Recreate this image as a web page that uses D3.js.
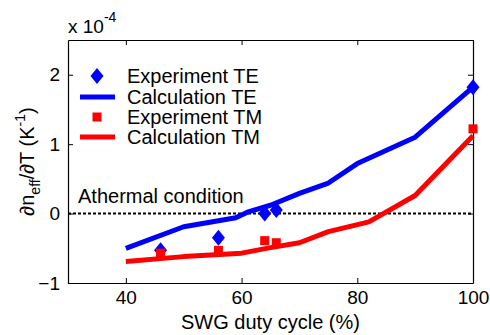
<!DOCTYPE html>
<html>
<head>
<meta charset="utf-8">
<script src="https://cdn.jsdelivr.net/npm/d3@7"></script>
<style>
  body { margin: 0; background: #fff; }
  text { font-family: 'Liberation Sans', Arial, sans-serif; fill: #000; }
</style>
</head>
<body>
<svg id="chart" width="490" height="335"></svg>
<script>
// data (values in units of 1e-4 K^-1)
const teCalcX = [40, 50, 59, 61, 65, 70, 75, 80, 90, 100]
const teCalcY = [-0.50, -0.19, -0.06, 0.02, 0.12, 0.29, 0.44, 0.72, 1.10, 1.82]
const tmCalcX = [40, 50, 60, 65, 70, 75, 82, 90, 100]
const tmCalcY = [-0.69, -0.62, -0.57, -0.49, -0.42, -0.26, -0.12, 0.26, 1.12]
const teExpX = [46, 56, 64, 66, 100]
const teExpY = [-0.53, -0.35, 0.00, 0.05, 1.82]
const tmExpX = [46, 56, 64, 66, 100]
const tmExpY = [-0.57, -0.53, -0.39, -0.42, 1.22]
const xTicks = [40, 60, 80, 100]
const yTicks = [-1, 0, 1, 2]
const legendLabels = ['Experiment TE', 'Calculation TE', 'Experiment TM', 'Calculation TM']

const blue = '#0000ff'
const red = '#ff0000'
const margin = { top: 40, right: 17, bottom: 52, left: 68 }
const w = 490, h = 335

const svg = d3.select('#chart')

const x = d3.scaleLinear().domain([30, 100]).range([margin.left, w - margin.right])
const y = d3.scaleLinear().domain([-1, 2.5]).range([h - margin.bottom, margin.top])

const zip = (xs, ys) => xs.map((d, i) => ({ x: d, y: ys[i] }))

// axes box with inward ticks
const axisStyle = g => g
  .call(g => g.select('.domain').attr('stroke', '#000').attr('stroke-width', 1.2))
  .call(g => g.selectAll('.tick line').attr('stroke', '#000').attr('stroke-width', 1))
  .call(g => g.selectAll('.tick text')
    .style('font-size', '19px')
    .style('font-family', "'Liberation Sans', Arial, sans-serif")
    .attr('fill', '#000'))

svg.append('g')
  .attr('transform', `translate(0,${y(-1)})`)
  .call(d3.axisBottom(x).tickValues(xTicks).tickSizeInner(-5).tickSizeOuter(0).tickPadding(8).tickFormat(d3.format('d')))
  .call(axisStyle)

svg.append('g')
  .attr('transform', `translate(0,${y(2.5)})`)
  .call(d3.axisTop(x).tickValues(xTicks).tickSizeInner(-5).tickSizeOuter(0).tickFormat(''))
  .call(axisStyle)

svg.append('g')
  .attr('transform', `translate(${x(30)},0)`)
  .call(d3.axisLeft(y).tickValues(yTicks).tickSizeInner(-5).tickSizeOuter(0).tickPadding(8).tickFormat(d3.format('d')))
  .call(axisStyle)

svg.append('g')
  .attr('transform', `translate(${x(100)},0)`)
  .call(d3.axisRight(y).tickValues(yTicks).tickSizeInner(-5).tickSizeOuter(0).tickFormat(''))
  .call(axisStyle)

// athermal line
svg.append('line')
  .attr('x1', x(30)).attr('x2', x(100))
  .attr('y1', y(0)).attr('y2', y(0))
  .attr('stroke', '#000')
  .attr('stroke-width', 2)
  .attr('stroke-dasharray', '3,2')

svg.append('text')
  .attr('x', 78).attr('y', y(0) - 11)
  .style('font-size', '20px')
  .text('Athermal condition')

const line = d3.line().x(d => x(d.x)).y(d => y(d.y))

svg.append('path')
  .datum(zip(teCalcX, teCalcY))
  .attr('d', line)
  .attr('fill', 'none').attr('stroke', blue).attr('stroke-width', 5)
  .attr('stroke-linejoin', 'round')

svg.append('path')
  .datum(zip(tmCalcX, tmCalcY))
  .attr('d', line)
  .attr('fill', 'none').attr('stroke', red).attr('stroke-width', 5)
  .attr('stroke-linejoin', 'round')

const diamond = (cx, cy) => `M${cx},${cy - 8}L${cx + 6.5},${cy}L${cx},${cy + 8}L${cx - 6.5},${cy}Z`

svg.selectAll('path.te')
  .data(zip(teExpX, teExpY)).enter()
  .append('path')
    .classed('te', true)
    .attr('d', d => diamond(x(d.x), y(d.y)))
    .attr('fill', blue)

svg.selectAll('rect.tm')
  .data(zip(tmExpX, tmExpY)).enter()
  .append('rect')
    .classed('tm', true)
    .attr('x', d => x(d.x) - 4.5)
    .attr('y', d => y(d.y) - 4.5)
    .attr('width', 9).attr('height', 9)
    .attr('fill', red)

// legend
const legend = svg.append('g')
const ly = [76, 97, 117, 137]
legend.append('path').attr('d', diamond(97, ly[0])).attr('fill', blue)
legend.append('line').attr('x1', 80).attr('x2', 115).attr('y1', ly[1]).attr('y2', ly[1])
  .attr('stroke', blue).attr('stroke-width', 5)
legend.append('rect').attr('x', 92.5).attr('y', ly[2] - 4.5).attr('width', 9).attr('height', 9).attr('fill', red)
legend.append('line').attr('x1', 80).attr('x2', 115).attr('y1', ly[3]).attr('y2', ly[3])
  .attr('stroke', red).attr('stroke-width', 5)
legend.selectAll('text')
  .data(legendLabels).enter()
  .append('text')
    .attr('x', 127)
    .attr('y', (d, i) => ly[i] + 7)
    .style('font-size', '20px')
    .text(d => d)

// exponent
const expo = svg.append('text')
  .attr('x', 68).attr('y', 33)
  .style('font-size', '19px')
expo.append('tspan').text('x 10')
expo.append('tspan').attr('dy', -11).style('font-size', '14px').text('-4')

// axis labels
svg.append('text')
  .attr('x', x(65)).attr('y', 329)
  .attr('text-anchor', 'middle')
  .style('font-size', '20px')
  .text('SWG duty cycle (%)')

const yl = svg.append('text')
  .attr('transform', `translate(34,${y(0.75)}) rotate(-90)`)
  .attr('text-anchor', 'middle')
  .style('font-size', '20px')
yl.append('tspan').text('\u2202n')
yl.append('tspan').attr('dy', 6).style('font-size', '14px').text('eff')
yl.append('tspan').attr('dy', -6).text('/\u2202T (K')
yl.append('tspan').attr('dy', -9).style('font-size', '14px').text('-1')
yl.append('tspan').attr('dy', 9).text(')')
</script>
</body>
</html>
